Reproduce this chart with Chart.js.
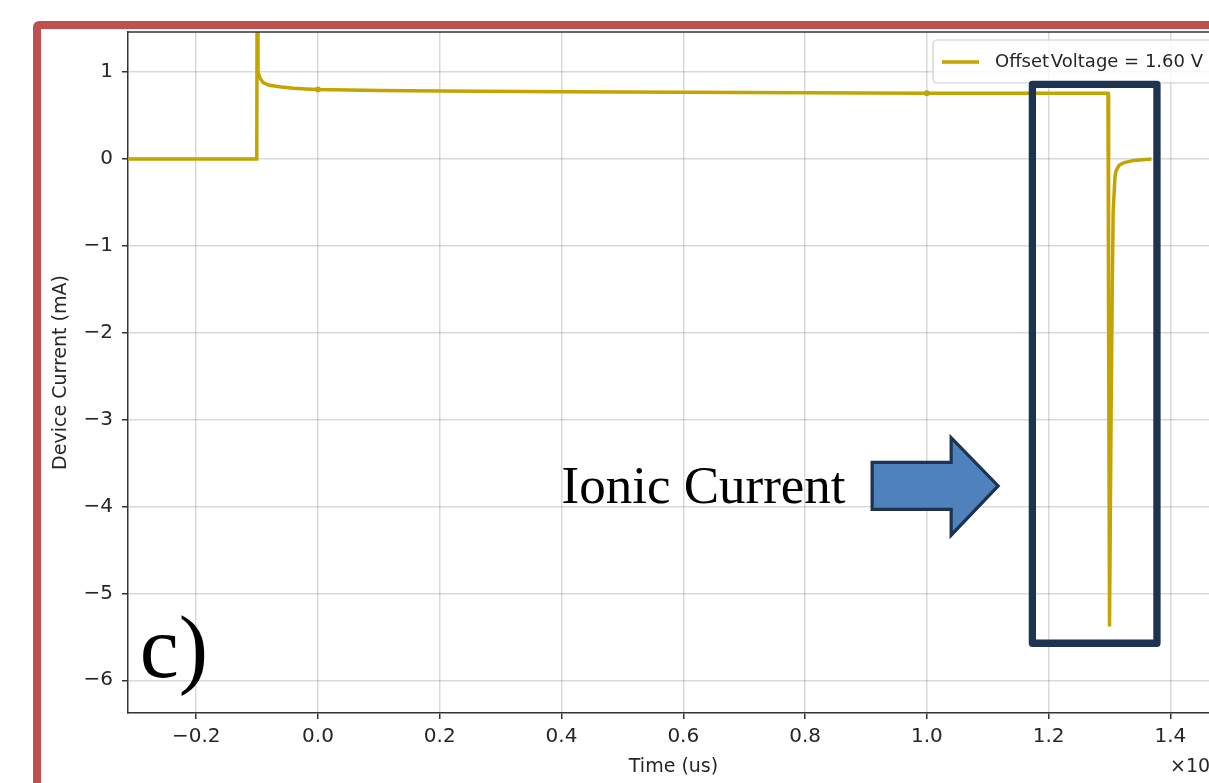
<!DOCTYPE html>
<html>
<head>
<meta charset="utf-8">
<script src="https://cdn.jsdelivr.net/npm/chart.js@4.4.1/dist/chart.umd.min.js"></script>
<style>
  html, body { margin: 0; padding: 0; background: #fff; overflow: hidden; }
  #wrap { position: relative; width: 1240px; height: 783px; }
  #chart { display: block; }
  #frame {
    position: absolute; left: 33px; top: 21px; width: 1300px; height: 900px;
    border: 8px solid #c0504d; border-radius: 6px; box-sizing: border-box;
    pointer-events: none;
  }
</style>
</head>
<body>
<div id="wrap">
  <canvas id="chart" width="1240" height="783" style="width:1240px;height:783px"></canvas>
  <div id="frame"></div>
</div>
<script>
// values (time in us, current in mA)
const timeUs = [-0.312, -0.1005, -0.1, -0.0985, -0.095, -0.09, -0.08, -0.06, -0.04, -0.02,
    0.0, 0.05, 0.1, 0.2, 0.4, 0.6, 0.8, 1.0, 1.2, 1.2975,
    1.2985, 1.300, 1.3025, 1.3045, 1.306, 1.309, 1.311, 1.316, 1.324, 1.34, 1.369];
const currentMa = [0, 0, 2.0, 1.0, 0.93, 0.88, 0.85, 0.83, 0.815, 0.807,
    0.80, 0.795, 0.79, 0.785, 0.775, 0.77, 0.765, 0.758, 0.757, 0.757,
    -2.0, -5.38, -3.0, -1.5, -0.6, -0.2, -0.13, -0.07, -0.04, -0.015, 0];
const markerTimes = [0.0, 1.0];

const xTicks = [-0.2, 0, 0.2, 0.4, 0.6, 0.8, 1.0, 1.2, 1.4];
const yTicks = [-6, -5, -4, -3, -2, -1, 0, 1];
const seriesLabel = 'Offset\u200aVoltage = 1.60 V';

const lineColor = '#c4a400';
const navy = '#1d3350';
const sans = "'DejaVu Sans', sans-serif";

// annotation anchors in data units
const annot = {
    box: { x1: 1.1733, x2: 1.3779, y1: 0.859, y2: -5.574 },
    arrow: [[0.9101, -3.492], [1.0399, -3.492], [1.0399, -3.207], [1.1171, -3.763],
            [1.0399, -4.330], [1.0399, -4.033], [0.9101, -4.033]],
    ionic: { x: 0.40, y: -3.965, text: 'Ionic Current' },
    panel: { x: -0.2928, y: -5.966, text: 'c)' }
};

function minus(s) { return String(s).replace('-', '\u2212'); }

const extras = {
    id: 'extras',
    afterDraw(chart) {
        const { ctx, chartArea: a, scales: { x, y } } = chart;
        ctx.save();

        // top spine
        ctx.strokeStyle = '#333';
        ctx.lineWidth = 1.5;
        ctx.beginPath();
        ctx.moveTo(a.left, a.top);
        ctx.lineTo(a.right, a.top);
        ctx.stroke();

        // legend
        const lx = 933, ly = 40, lw = 282, lh = 43;
        ctx.fillStyle = 'rgba(255,255,255,0.8)';
        ctx.strokeStyle = '#cccccc';
        ctx.lineWidth = 1.2;
        ctx.beginPath();
        ctx.roundRect(lx, ly, lw, lh, 4);
        ctx.fill();
        ctx.stroke();
        ctx.strokeStyle = lineColor;
        ctx.lineWidth = 3.5;
        ctx.beginPath();
        ctx.moveTo(942, 62);
        ctx.lineTo(979, 62);
        ctx.stroke();
        ctx.fillStyle = '#262626';
        ctx.font = '18px ' + sans;
        ctx.textBaseline = 'middle';
        ctx.textAlign = 'left';
        ctx.fillText(seriesLabel, 995, 62);

        // offset text
        ctx.font = '19px ' + sans;
        ctx.fillText('\u00d710', 1170, 767);

        // highlight box
        const b = annot.box;
        ctx.strokeStyle = navy;
        ctx.lineWidth = 7.3;
        ctx.lineJoin = 'round';
        ctx.strokeRect(x.getPixelForValue(b.x1), y.getPixelForValue(b.y1),
            x.getPixelForValue(b.x2) - x.getPixelForValue(b.x1),
            y.getPixelForValue(b.y2) - y.getPixelForValue(b.y1));

        // arrow
        ctx.beginPath();
        annot.arrow.forEach(([px, py], i) => {
            const cx = x.getPixelForValue(px), cy = y.getPixelForValue(py);
            if (i === 0) ctx.moveTo(cx, cy); else ctx.lineTo(cx, cy);
        });
        ctx.closePath();
        ctx.fillStyle = '#4f81bd';
        ctx.fill();
        ctx.lineJoin = 'miter';
        ctx.lineWidth = 3.2;
        ctx.strokeStyle = navy;
        ctx.stroke();

        // serif labels
        ctx.fillStyle = '#000';
        ctx.textBaseline = 'alphabetic';
        ctx.font = "53px 'Liberation Serif', 'Times New Roman', serif";
        ctx.fillText(annot.ionic.text, x.getPixelForValue(annot.ionic.x), y.getPixelForValue(annot.ionic.y));
        ctx.font = "88px 'Liberation Serif', 'Times New Roman', serif";
        ctx.fillText(annot.panel.text, x.getPixelForValue(annot.panel.x), y.getPixelForValue(annot.panel.y));

        ctx.restore();
    }
};

const ctx = document.getElementById('chart').getContext('2d');
new Chart(ctx, {
    type: 'line',
    data: {
        datasets: [{
            label: seriesLabel,
            data: timeUs.map((t, i) => ({ x: t, y: currentMa[i] })),
            borderColor: lineColor,
            backgroundColor: lineColor,
            borderWidth: 3.5,
            tension: 0,
            clip: 0,
            pointRadius: c => (c.raw && markerTimes.includes(c.raw.x)) ? 3 : 0,
            pointBorderWidth: 0
        }]
    },
    options: {
        responsive: false,
        animation: false,
        events: [],
        layout: { padding: { left: 0, top: 32, right: 21, bottom: 0 } },
        plugins: { legend: { display: false }, tooltip: { enabled: false } },
        scales: {
            x: {
                type: 'linear',
                min: -0.312,
                max: 1.4798,
                afterBuildTicks: s => { s.ticks = xTicks.map(v => ({ value: v })); },
                afterFit: s => { s.height = 70; },
                ticks: {
                    autoSkip: false, maxRotation: 0, padding: 6,
                    color: '#262626', font: { family: sans, size: 20 },
                    callback: v => minus(v.toFixed(1))
                },
                grid: { color: 'rgba(0,0,0,0.15)', lineWidth: 1.5, tickColor: '#333', tickLength: 6, tickWidth: 1.5 },
                border: { color: '#333', width: 1.5 },
                title: { display: true, text: 'Time (us)', color: '#262626',
                    font: { family: sans, size: 19 }, padding: { top: 0, bottom: 4.6 } }
            },
            y: {
                type: 'linear',
                min: -6.377,
                max: 1.463,
                afterBuildTicks: s => { s.ticks = yTicks.map(v => ({ value: v })); },
                afterFit: s => { s.width = 128; },
                ticks: {
                    autoSkip: false, padding: 9,
                    color: '#262626', font: { family: sans, size: 20 },
                    callback: v => minus(v)
                },
                grid: { color: 'rgba(0,0,0,0.15)', lineWidth: 1.5, tickColor: '#333', tickLength: 6, tickWidth: 1.5 },
                border: { color: '#333', width: 1.5 },
                title: { display: true, text: 'Device Current (mA)', color: '#262626',
                    font: { family: sans, size: 19 }, padding: { top: 49.6, bottom: 0 } }
            }
        }
    },
    plugins: [extras]
});
</script>
</body>
</html>
